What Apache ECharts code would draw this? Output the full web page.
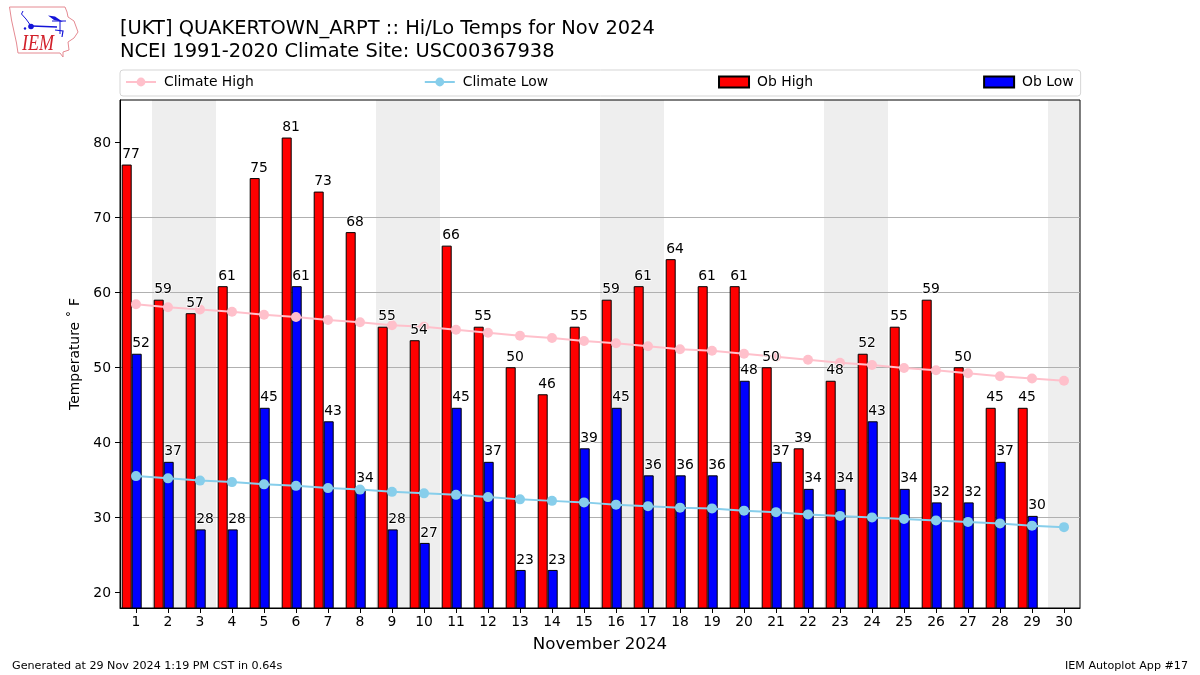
<!DOCTYPE html>
<html><head><meta charset="utf-8"><style>html,body{margin:0;padding:0;background:#fff}#c{width:1200px;height:675px}</style>
<script src="https://cdn.jsdelivr.net/npm/echarts@6/dist/echarts.min.js"></script></head>
<body><div id="c"></div><script>
const days=['1','2','3','4','5','6','7','8','9','10','11','12','13','14','15','16','17','18','19','20','21','22','23','24','25','26','27','28','29','30'];
const obHigh=[77,59,57.2,60.8,75.2,80.6,73.4,68,55.4,53.6,66.2,55.4,50,46.4,55.4,59,60.8,64.4,60.8,60.8,50,39.2,48.2,51.8,55.4,59,50,44.6,44.6,null];
const obLow=[51.8,37.4,28.4,28.4,44.6,60.8,42.8,33.8,28.4,26.6,44.6,37.4,23,23,39.2,44.6,35.6,35.6,35.6,48.2,37.4,33.8,33.8,42.8,33.8,32,32,37.4,30.2,null];
const climateHigh=[58.4,58.0,57.7,57.4,57.0,56.7,56.3,56.0,55.6,55.4,55.0,54.6,54.2,53.9,53.5,53.2,52.8,52.4,52.2,51.8,51.4,51.0,50.6,50.3,49.9,49.6,49.2,48.8,48.5,48.2];
const climateLow=[35.5,35.2,34.9,34.7,34.4,34.2,33.9,33.7,33.4,33.2,33.0,32.7,32.4,32.2,32.0,31.7,31.5,31.3,31.2,30.9,30.7,30.4,30.2,30.0,29.8,29.6,29.4,29.2,28.9,28.7];
const weekendStart=[1.5,8.5,15.5,22.5,29.5];
const weekendEnd=[3.5,10.5,17.5,24.5,30.5];
const yTicks=[20,30,40,50,60,70,80];
const F='"DejaVu Sans"';
const labelSeries=(name,values,dx)=>({name,type:'scatter',data:values,symbol:'circle',symbolSize:0,silent:true,z:6,itemStyle:{opacity:1},
  label:{show:true,position:'top',distance:3,offset:[dx,0],color:'#000',opacity:1,fontFamily:F,fontSize:13.9,
    textBorderColor:'#fff',textBorderWidth:1.5,formatter:p=>Math.round(p.value)}});
const chart=echarts.init(document.getElementById('c'),null,{renderer:'canvas'});
chart.setOption({
  animation:false,backgroundColor:'#fff',textStyle:{fontFamily:F},
  title:{text:'[UKT] QUAKERTOWN_ARPT :: Hi/Lo Temps for Nov 2024\nNCEI 1991-2020 Climate Site: USC00367938',left:120,top:17,padding:0,
    textStyle:{fontFamily:F,fontSize:19.44,fontWeight:'normal',color:'#000',lineHeight:23.5}},
  legend:{data:[{name:'Climate High'},{name:'Climate Low'},{name:'Ob High',icon:'rect'},{name:'Ob Low',icon:'rect'}],left:120,top:70,itemGap:170,itemWidth:30,itemHeight:11,
    textStyle:{fontFamily:F,fontSize:13.9,color:'#000',padding:[0,0,0,3]},padding:[5,7,7,5],
    borderColor:'#d5d5d5',borderWidth:1,borderRadius:3,backgroundColor:'#fff'},
  grid:{left:120,right:120,top:100,height:508,show:true,borderColor:'#000',borderWidth:1,backgroundColor:'transparent'},
  xAxis:[
    {type:'category',data:days,name:'November 2024',nameLocation:'middle',nameGap:28,nameTextStyle:{fontFamily:F,fontSize:16.67,color:'#000'},
     axisLine:{show:true,lineStyle:{color:'#000',width:1}},axisTick:{show:true,alignWithLabel:true,length:5,lineStyle:{color:'#000'}},
     axisLabel:{color:'#000',fontFamily:F,fontSize:13.9,margin:7,interval:0},splitLine:{show:false}},
    {type:'value',min:0.5,max:30.5,show:false,splitLine:{show:false}}
  ],
  yAxis:{type:'value',min:17.93,max:85.6,name:'Temperature ˚ F',nameLocation:'middle',nameGap:36,nameRotate:90,
    nameTextStyle:{fontFamily:F,fontSize:13.9,color:'#000'},
    axisLine:{show:true,lineStyle:{color:'#000',width:1}},
    axisTick:{show:true,length:5,lineStyle:{color:'#000'},customValues:yTicks},
    axisLabel:{color:'#000',fontFamily:F,fontSize:13.9,margin:9,customValues:yTicks,formatter:'{a|{value}}',
      rich:{a:{color:'#000',fontFamily:F,fontSize:13.9,padding:[2,0,0,0]}}},
    splitLine:{show:true,showMinLine:false,showMaxLine:false,lineStyle:{color:'#b0b0b0',width:1},customValues:yTicks}},
  series:[
    {name:'weekend',type:'line',xAxisIndex:1,data:[],silent:true,
     markArea:{silent:true,z:-1,itemStyle:{color:'#eeeeee'},data:weekendStart.map((s,i)=>[{xAxis:s},{xAxis:weekendEnd[i]}])}},
    {name:'Ob High',type:'bar',data:obHigh,barWidth:10,barGap:0,itemStyle:{color:'#ff0000',borderColor:'#000',borderWidth:1},z:3},
    {name:'Ob Low',type:'bar',data:obLow,barWidth:10,barGap:0,itemStyle:{color:'#0000ff',borderColor:'#000',borderWidth:1},z:3},
    {name:'spacer',type:'bar',data:days.map(()=>null),barWidth:8.6,barGap:0,silent:true},
    {name:'Climate High',type:'line',data:climateHigh,symbol:'circle',symbolSize:10,showSymbol:true,lineStyle:{color:'#ffc0cb',width:2},itemStyle:{color:'#ffc0cb'},z:4},
    {name:'Climate Low',type:'line',data:climateLow,symbol:'circle',symbolSize:10,showSymbol:true,lineStyle:{color:'#87ceeb',width:2},itemStyle:{color:'#87ceeb'},z:4},
    labelSeries('highLabels',obHigh,-5),
    labelSeries('lowLabels',obLow,5)
  ],
  graphic:[
    {type:'text',left:12,top:661,style:{text:'Generated at 29 Nov 2024 1:19 PM CST in 0.64s',font:'11.15px "DejaVu Sans"',fill:'#000'}},
    {type:'text',right:12,top:661,style:{text:'IEM Autoplot App #17',font:'11.15px "DejaVu Sans"',fill:'#000'}},
    {type:'polygon',shape:{points:[[9.5,7],[65,7],[67,12],[68,17],[74,21],[78,32],[74,38],[68,42],[69,50],[63,52],[63,57],[60,53],[18,53],[16.5,43],[11.5,20]]},style:{fill:'none',stroke:'#e58a92',lineWidth:1}},
    {type:'text',x:22,y:32,scaleY:1.3,style:{text:'IEM',font:'italic 18px "Liberation Serif"',fill:'#d2202a'}},
    {type:'polyline',shape:{points:[[32,26],[57,27]]},style:{stroke:'#1414d8',lineWidth:1.5,fill:'none'}},
    {type:'circle',shape:{cx:31,cy:26.5,r:2.8},style:{fill:'#1414d8'}},
    {type:'polyline',shape:{points:[[23,11],[21.5,14],[26,19],[31,26]]},style:{stroke:'#1414d8',lineWidth:1,fill:'none'}},
    {type:'polygon',shape:{points:[[48,15.5],[55,16.5],[63,22],[54,20]]},style:{fill:'#1414d8'}},
    {type:'polyline',shape:{points:[[52,21],[66,21]]},style:{stroke:'#1414d8',lineWidth:1,fill:'none'}},
    {type:'polyline',shape:{points:[[60,21],[60,34]]},style:{stroke:'#1414d8',lineWidth:1,fill:'none'}},
    {type:'polyline',shape:{points:[[55,30],[63,31],[62,37]]},style:{stroke:'#1414d8',lineWidth:1.2,fill:'none'}},
    {type:'circle',shape:{cx:25,cy:28.5,r:1.2},style:{fill:'#1414d8'}}
  ]
});
</script></body></html>
